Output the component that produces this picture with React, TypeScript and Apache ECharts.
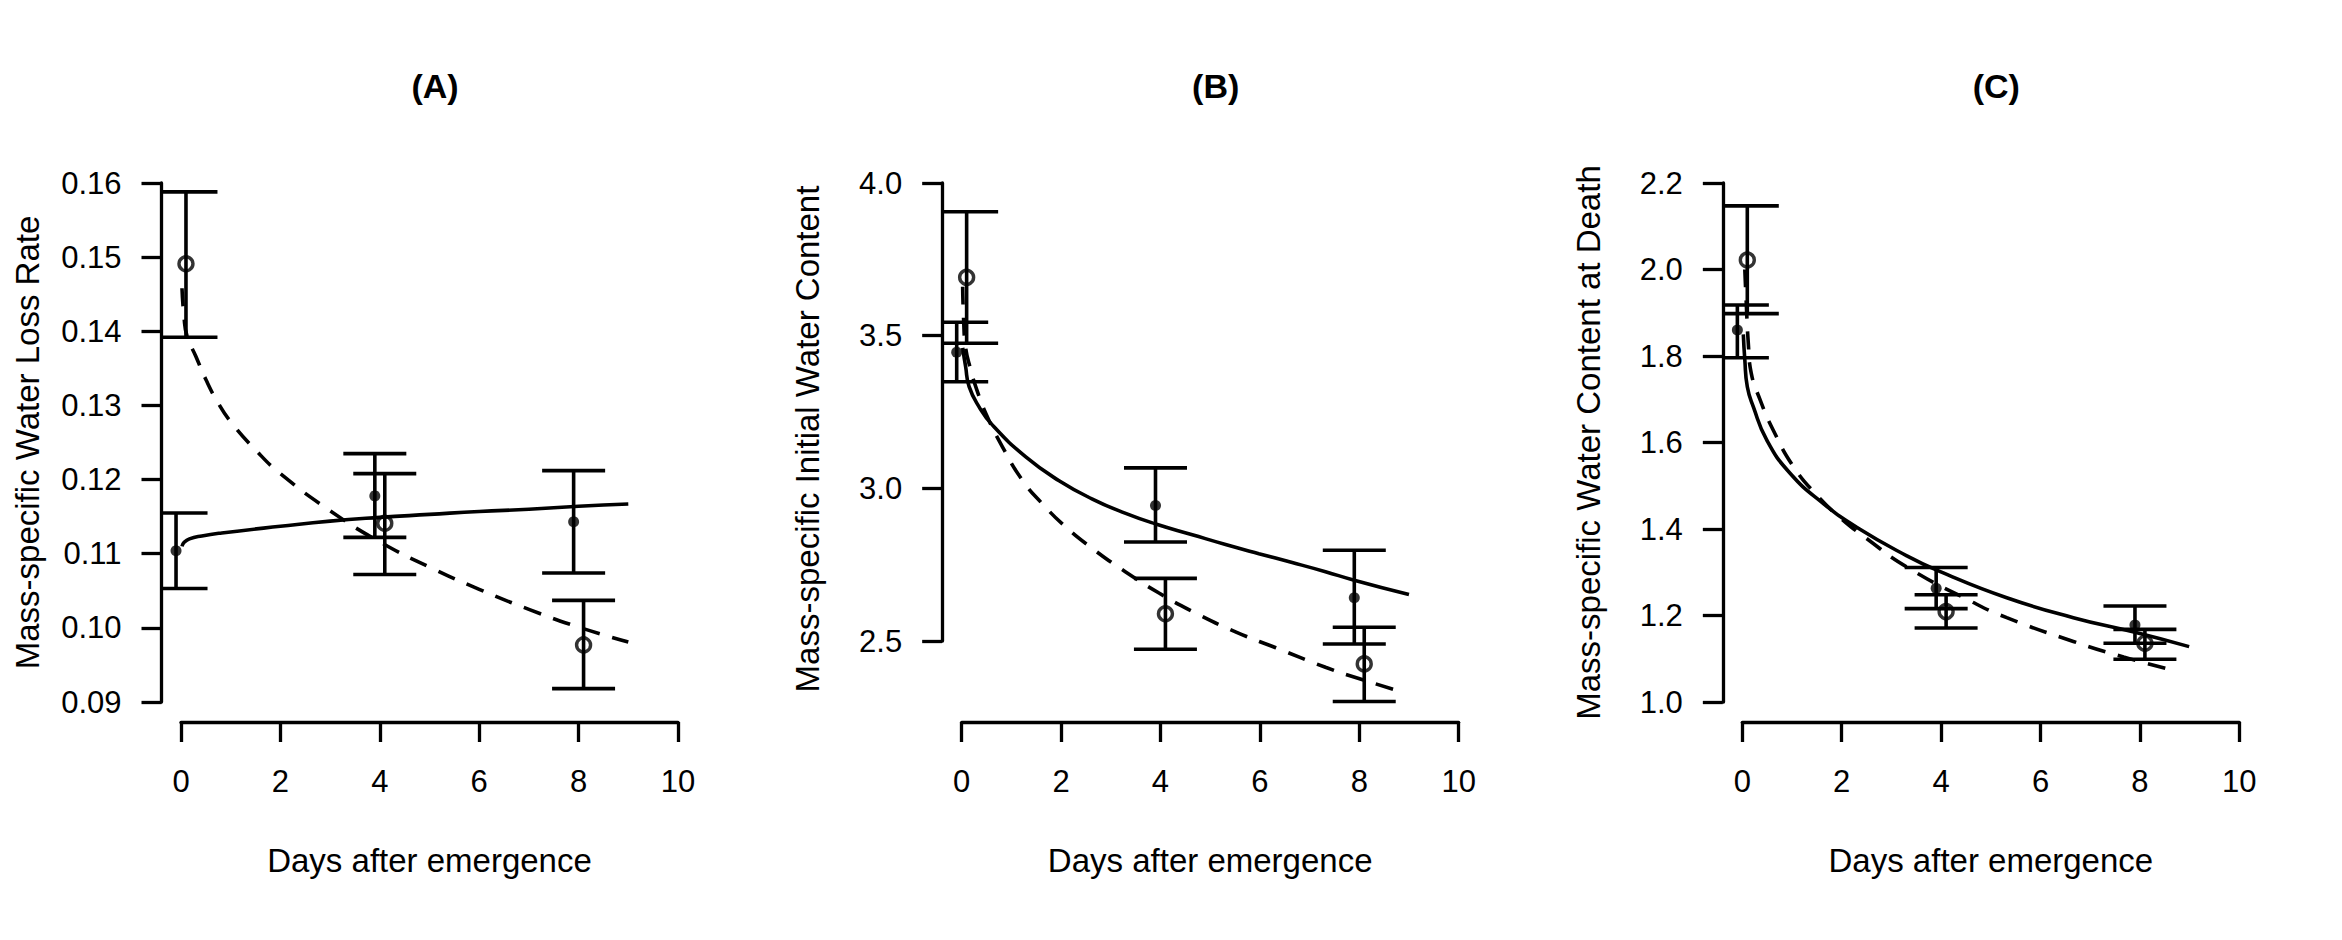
import React, { useEffect, useRef } from 'react';
import * as echarts from 'echarts';

// panel texts
const panelTitles = ['(A)', '(B)', '(C)'];
const yTitles = [
  'Mass-specific Water Loss Rate',
  'Mass-specific Initial Water Content',
  'Mass-specific Water Content at Death',
];
const xTitle = 'Days after emergence';

// axis ranges
const yMins = [0.09, 2.5, 1.0];
const yMaxs = [0.16, 4.0, 2.2];
const ySteps = [0.01, 0.5, 0.2];
const yDecimals = [2, 1, 1];

// sampling days, closed points sit left of the day, open points right of it
const closedDays = [-0.1, 3.9, 7.9];
const openDays = [0.1, 4.1, 8.1];

// (A) water loss rate
const lossClosedMean = [0.1104, 0.1178, 0.1143];
const lossClosedLow = [0.1053, 0.1122, 0.1074];
const lossClosedHigh = [0.1155, 0.1235, 0.1212];
const lossOpenMean = [0.1491, 0.1141, 0.0977];
const lossOpenLow = [0.1392, 0.1072, 0.0918];
const lossOpenHigh = [0.1588, 0.1208, 0.1037];
const lossSolid = [
  [0.02, 0.1110], [0.06, 0.1115], [0.17, 0.1120], [0.42, 0.1124], [0.82, 0.1128],
  [2, 0.1137], [3, 0.1144], [4, 0.1149], [5, 0.1153], [6, 0.1157],
  [7, 0.1160], [8, 0.1164], [9, 0.1167],
];
const lossDashed = [
  [0.02, 0.1458], [0.06, 0.1420], [0.12, 0.1394], [0.3, 0.1366], [0.5, 0.1335],
  [0.75, 0.1303], [1, 0.1278], [1.5, 0.1240], [2, 0.1208], [3, 0.1158],
  [4, 0.1116], [5, 0.1082], [6, 0.1052], [7, 0.1025], [8, 0.1001], [9, 0.0981],
];

// (B) initial water content
const initClosedMean = [3.446, 2.944, 2.642];
const initClosedLow = [3.349, 2.824, 2.490];
const initClosedHigh = [3.544, 3.067, 2.797];
const initOpenMean = [3.691, 2.589, 2.425];
const initOpenLow = [3.475, 2.473, 2.302];
const initOpenHigh = [3.906, 2.705, 2.545];
const initSolid = [
  [0.02, 3.46], [0.08, 3.398], [0.15, 3.333], [0.35, 3.267], [0.62, 3.207],
  [1.29, 3.103], [1.96, 3.025], [2.63, 2.965], [3.3, 2.918], [3.89, 2.884],
  [4.64, 2.848], [5.31, 2.816], [5.98, 2.786], [6.65, 2.757], [7.32, 2.727],
  [7.88, 2.700], [9, 2.652],
];
const initDashed = [
  [0.02, 3.66], [0.04, 3.55], [0.08, 3.46], [0.18, 3.39], [0.3, 3.325],
  [0.5, 3.24], [0.82, 3.136], [1.22, 3.027], [1.62, 2.950], [2.09, 2.874],
  [2.63, 2.803], [3.3, 2.726], [3.97, 2.657], [4.64, 2.597], [5.51, 2.530],
  [6.32, 2.478], [7.32, 2.414], [7.99, 2.377], [8.87, 2.333],
];

// (C) water content at death
const deathClosedMean = [1.860, 1.263, 1.178];
const deathClosedLow = [1.796, 1.216, 1.136];
const deathClosedHigh = [1.918, 1.311, 1.222];
const deathOpenMean = [2.022, 1.209, 1.136];
const deathOpenLow = [1.898, 1.171, 1.099];
const deathOpenHigh = [2.147, 1.248, 1.168];
const deathSolid = [
  [0.02, 1.85], [0.05, 1.791], [0.1, 1.729], [0.22, 1.683], [0.49, 1.606],
  [0.96, 1.529], [1.63, 1.459], [2.3, 1.404], [3.31, 1.338], [3.97, 1.302],
  [5.32, 1.241], [6.66, 1.195], [7.9, 1.161], [8.99, 1.128],
];
const deathDashed = [
  [0.05, 2.0], [0.08, 1.92], [0.12, 1.83], [0.18, 1.76], [0.36, 1.698],
  [0.62, 1.629], [1.03, 1.544], [1.5, 1.478], [1.97, 1.426], [2.5, 1.378],
  [3.31, 1.312], [4.58, 1.234], [5.32, 1.195], [6.66, 1.140], [7.67, 1.104],
  [8.71, 1.072],
];

const closedMeans = [lossClosedMean, initClosedMean, deathClosedMean];
const closedLows = [lossClosedLow, initClosedLow, deathClosedLow];
const closedHighs = [lossClosedHigh, initClosedHigh, deathClosedHigh];
const openMeans = [lossOpenMean, initOpenMean, deathOpenMean];
const openLows = [lossOpenLow, initOpenLow, deathOpenLow];
const openHighs = [lossOpenHigh, initOpenHigh, deathOpenHigh];
const solidCurves = [lossSolid, initSolid, deathSolid];
const dashedCurves = [lossDashed, initDashed, deathDashed];

// layout (px)
const PANEL_W = 2342 / 3;
const GRID_LEFT = 181;
const GRID_TOP = 183;
const GRID_W = 497;
const gridHeights = [519, 458, 519];
const X_AXIS_Y = 722;
const Y_AXIS_SHIFT = 19.5;
const CAP_HALF = 31.5;
const FONT = '"Liberation Sans", Arial, Helvetica, sans-serif';
const LW = 3.6;

function errorBars(i: number, xs: number[], lows: number[], highs: number[]) {
  return {
    type: 'custom',
    xAxisIndex: i,
    yAxisIndex: i,
    clip: false,
    silent: true,
    data: xs.map((x, k) => [x, lows[k], highs[k]]),
    renderItem: (params: any, api: any) => {
      const x = api.value(0);
      const lo = api.coord([x, api.value(1)]);
      const hi = api.coord([x, api.value(2)]);
      // caps are cut at the y axis line, like the plot region in the source
      const leftEdge = params.coordSys.x - Y_AXIS_SHIFT;
      const l = Math.max(lo[0] - CAP_HALF, leftEdge);
      const r = lo[0] + CAP_HALF;
      const style = { stroke: '#000', lineWidth: LW, fill: null };
      return {
        type: 'group',
        children: [
          { type: 'line', shape: { x1: lo[0], y1: lo[1], x2: hi[0], y2: hi[1] }, style },
          { type: 'line', shape: { x1: l, y1: lo[1], x2: r, y2: lo[1] }, style },
          { type: 'line', shape: { x1: l, y1: hi[1], x2: r, y2: hi[1] }, style },
        ],
      };
    },
  };
}

export default function App() {
  const chartRef = useRef<HTMLDivElement>(null);

  useEffect(() => {
    document.body.style.margin = '0';
    if (!chartRef.current) return;
    const chart = echarts.init(chartRef.current, undefined, { renderer: 'svg' });

    const idx = [0, 1, 2];
    const axisLine = { show: true, onZero: false, lineStyle: { color: '#000', width: 3.3 } };
    const axisTick = { show: true, inside: false, length: 20, lineStyle: { color: '#000', width: 3.3 } };

    const series: any[] = [];
    idx.forEach((i) => {
      series.push({
        type: 'line',
        xAxisIndex: i,
        yAxisIndex: i,
        data: solidCurves[i],
        showSymbol: false,
        smooth: 0.5,
        clip: false,
        silent: true,
        lineStyle: { color: '#000', width: LW },
      });
      series.push({
        type: 'line',
        xAxisIndex: i,
        yAxisIndex: i,
        data: dashedCurves[i],
        showSymbol: false,
        smooth: 0.5,
        clip: false,
        silent: true,
        lineStyle: { color: '#000', width: LW, type: [18, 13] },
      });
      series.push(errorBars(i, closedDays, closedLows[i], closedHighs[i]));
      series.push(errorBars(i, openDays, openLows[i], openHighs[i]));
      series.push({
        type: 'scatter',
        xAxisIndex: i,
        yAxisIndex: i,
        data: closedDays.map((x, k) => [x, closedMeans[i][k]]),
        symbol: 'circle',
        symbolSize: 11,
        clip: false,
        silent: true,
        itemStyle: { color: '#000' },
      });
      series.push({
        type: 'scatter',
        xAxisIndex: i,
        yAxisIndex: i,
        data: openDays.map((x, k) => [x, openMeans[i][k]]),
        symbol: 'circle',
        symbolSize: 14,
        clip: false,
        silent: true,
        itemStyle: { color: 'rgba(0,0,0,0)', borderColor: '#000', borderWidth: 3.4 },
      });
    });

    const option = {
      animation: false,
      backgroundColor: '#fff',
      title: idx.map((i) => ({
        text: panelTitles[i],
        left: 430 + i * PANEL_W,
        top: 64,
        textAlign: 'center',
        textStyle: { fontSize: 34, fontWeight: 'bold', color: '#000', fontFamily: FONT },
      })),
      grid: idx.map((i) => ({
        left: GRID_LEFT + i * PANEL_W,
        top: GRID_TOP,
        width: GRID_W,
        height: gridHeights[i],
        containLabel: false,
      })),
      xAxis: idx.map((i) => ({
        type: 'value',
        gridIndex: i,
        min: 0,
        max: 10,
        interval: 2,
        offset: X_AXIS_Y - (GRID_TOP + gridHeights[i]),
        name: xTitle,
        nameLocation: 'middle',
        nameGap: 122,
        nameTextStyle: { fontSize: 33, color: '#000', fontFamily: FONT },
        axisLine,
        axisTick,
        splitLine: { show: false },
        axisLabel: { fontSize: 31, color: '#000', fontFamily: FONT, margin: 44 },
      })),
      yAxis: idx.map((i) => ({
        type: 'value',
        gridIndex: i,
        min: yMins[i],
        max: yMaxs[i],
        interval: ySteps[i],
        offset: Y_AXIS_SHIFT,
        name: yTitles[i],
        nameLocation: 'middle',
        nameRotate: 90,
        nameGap: 118,
        nameTextStyle: {
          fontSize: 33,
          color: '#000',
          fontFamily: FONT,
          padding: i === 1 ? [0, 54, 0, 0] : 0,
        },
        axisLine,
        axisTick,
        splitLine: { show: false },
        axisLabel: {
          fontSize: 31,
          color: '#000',
          fontFamily: FONT,
          margin: 40,
          formatter: (v: number) => v.toFixed(yDecimals[i]),
        },
      })),
      series,
    };

    chart.setOption(option);

    return () => {
      chart.dispose();
    };
  }, []);

  return <div ref={chartRef} style={{ width: 2342, height: 940 }} />;
}
